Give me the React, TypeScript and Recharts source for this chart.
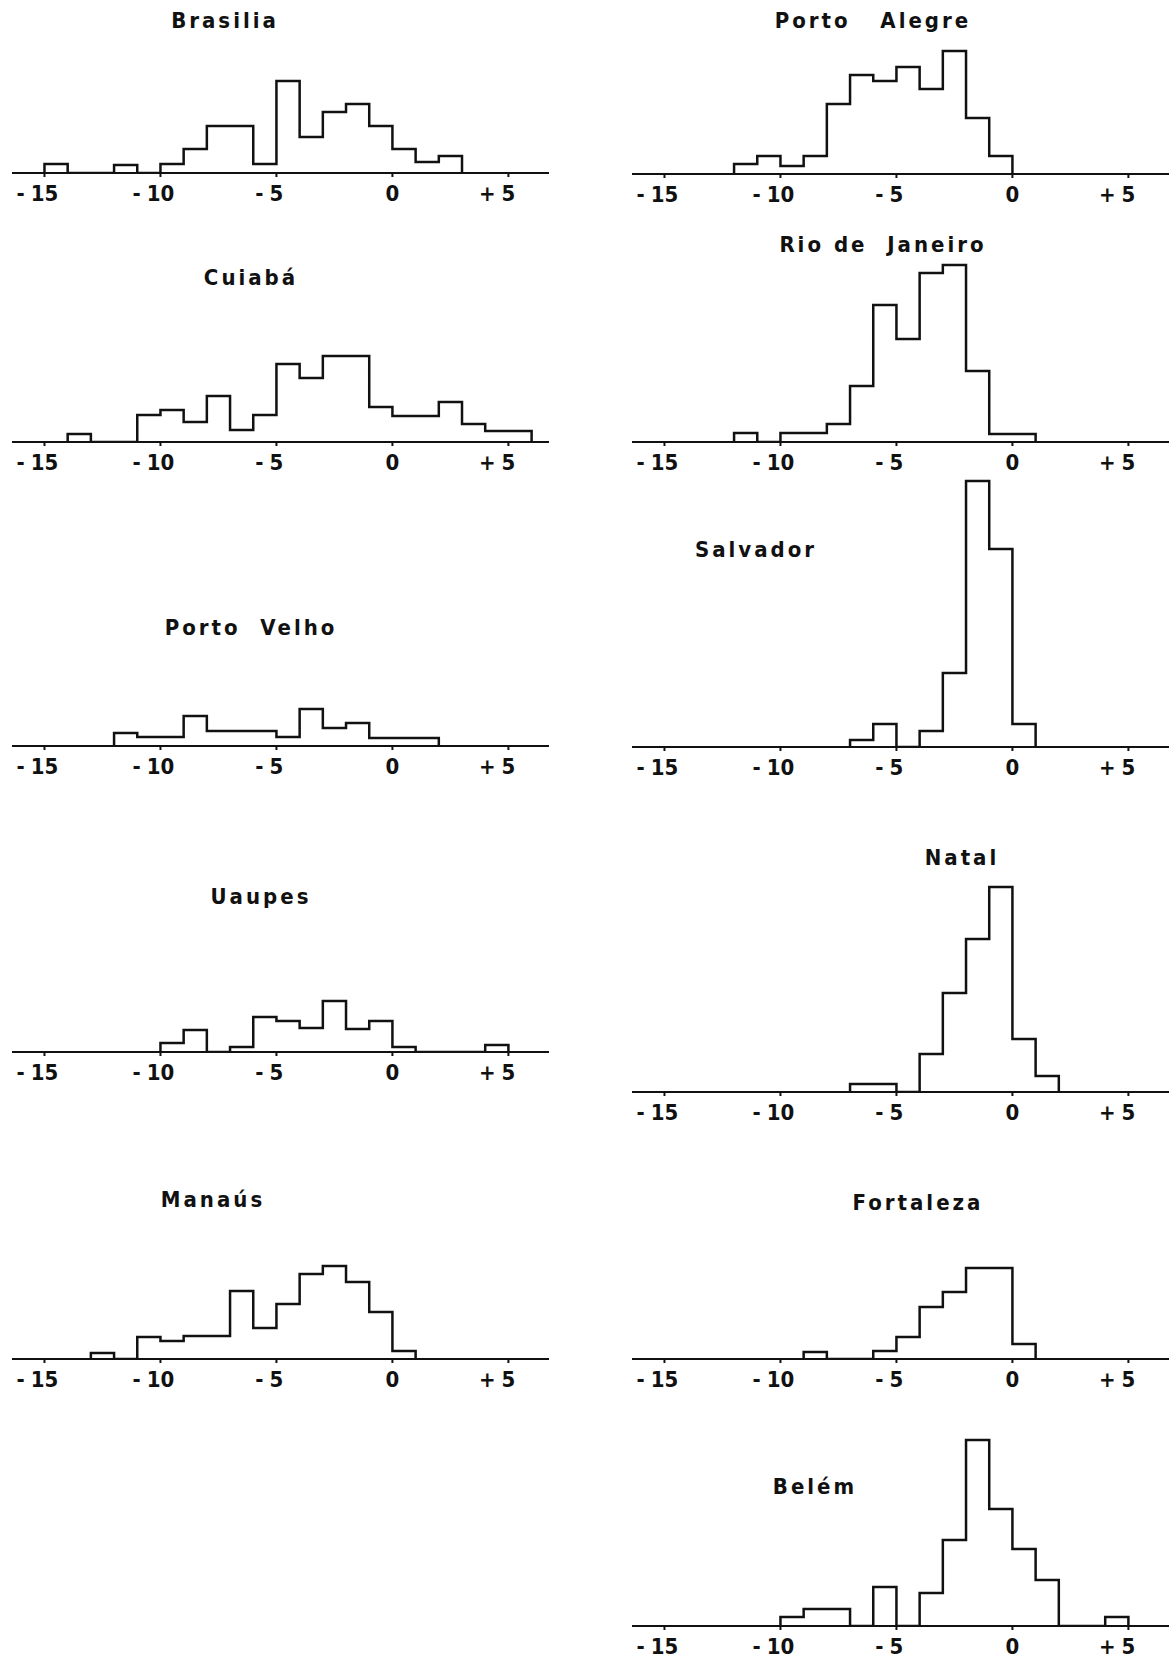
import React from "react";
import { LineChart, Line, XAxis, YAxis } from "recharts";

// ---- data (relative frequencies, one value per unit-wide bin, starting at the given edge) ----
const xTicks = [-15, -10, -5, 0, 5];
const xDomain: [number, number] = [-16.4, 6.75];

const brasiliaStart = -15;
const brasiliaCounts = [9, 0, 0, 8, 0, 9, 24, 47, 47, 9, 92, 36, 61, 69, 47, 24, 11, 17];

const cuiabaStart = -14;
const cuiabaCounts = [8, 0, 0, 27, 32, 20, 46, 12, 27, 78, 64, 86, 86, 35, 26, 26, 40, 18, 11, 11];

const portoVelhoStart = -12;
const portoVelhoCounts = [13, 9, 9, 30, 15, 15, 15, 9, 37, 18, 23, 8, 8, 8];

const uaupesStart = -10;
const uaupesCounts = [9, 22, 0, 5, 35, 31, 24, 51, 23, 31, 5, 0, 0, 0, 7];

const manausStart = -13;
const manausCounts = [6, 0, 22, 18, 23, 23, 68, 31, 55, 85, 93, 77, 47, 8];

const portoAlegreStart = -12;
const portoAlegreCounts = [10, 18, 8, 18, 70, 99, 93, 107, 85, 123, 56, 18];

const rioStart = -12;
const rioCounts = [9, 0, 9, 9, 18, 56, 137, 103, 169, 177, 71, 8, 8];

const salvadorStart = -7;
const salvadorCounts = [7, 23, 0, 16, 74, 266, 198, 23];

const natalStart = -7;
const natalCounts = [8, 8, 0, 38, 99, 153, 205, 53, 16];

const fortalezaStart = -9;
const fortalezaCounts = [7, 0, 0, 8, 22, 52, 67, 91, 91, 15];

const belemStart = -10;
const belemCounts = [9, 17, 17, 0, 39, 0, 33, 86, 186, 117, 77, 46, 0, 0, 9];

// ---- layout (positions only) ----
const LEFT_X = 12;
const RIGHT_X = 632;
const CHART_W = 537;
const AXIS_H = 34;

type PanelDef = {
  title: string;
  start: number;
  counts: number[];
  left: number;
  baseline: number;
  tx: number;
  ty: number;
};

const panels: PanelDef[] = [
  { title: "Brasilia", start: brasiliaStart, counts: brasiliaCounts, left: LEFT_X, baseline: 173, tx: 225, ty: 21 },
  { title: "Cuiabá", start: cuiabaStart, counts: cuiabaCounts, left: LEFT_X, baseline: 442, tx: 251, ty: 278 },
  { title: "Porto  Velho", start: portoVelhoStart, counts: portoVelhoCounts, left: LEFT_X, baseline: 746, tx: 251, ty: 628 },
  { title: "Uaupes", start: uaupesStart, counts: uaupesCounts, left: LEFT_X, baseline: 1052, tx: 261, ty: 897 },
  { title: "Manaús", start: manausStart, counts: manausCounts, left: LEFT_X, baseline: 1359, tx: 213, ty: 1200 },
  { title: "Porto   Alegre", start: portoAlegreStart, counts: portoAlegreCounts, left: RIGHT_X, baseline: 174, tx: 873, ty: 21 },
  { title: "Rio de  Janeiro", start: rioStart, counts: rioCounts, left: RIGHT_X, baseline: 442, tx: 883, ty: 245 },
  { title: "Salvador", start: salvadorStart, counts: salvadorCounts, left: RIGHT_X, baseline: 747, tx: 756, ty: 550 },
  { title: "Natal", start: natalStart, counts: natalCounts, left: RIGHT_X, baseline: 1092, tx: 962, ty: 858 },
  { title: "Fortaleza", start: fortalezaStart, counts: fortalezaCounts, left: RIGHT_X, baseline: 1359, tx: 918, ty: 1203 },
  { title: "Belém", start: belemStart, counts: belemCounts, left: RIGHT_X, baseline: 1626, tx: 815, ty: 1487 },
];

const FONT = "'DejaVu Sans Condensed', 'DejaVu Sans', sans-serif";

function buildSteps(start: number, counts: number[]) {
  const pts: { x: number; y: number }[] = [{ x: start, y: 0 }];
  counts.forEach((c, i) => pts.push({ x: start + i, y: c }));
  pts.push({ x: start + counts.length, y: 0 });
  return pts;
}

function Tick(props: any) {
  const { x, y, payload } = props;
  const v = payload.value as number;
  const sign = v < 0 ? "-" : v > 0 ? "+" : "";
  const digits = String(Math.abs(v));
  const halfW = digits.length * 6.9;
  const common = {
    fontFamily: FONT,
    fontWeight: 700,
    fontSize: 22,
    fill: "#111",
    fontStretch: "condensed" as any,
  };
  return (
    <g>
      <text x={x} y={y} dy={22} textAnchor="middle" {...common}>
        {digits}
      </text>
      {sign && (
        <text x={x - halfW - 6} y={y} dy={22} textAnchor="end" {...common}>
          {sign}
        </text>
      )}
    </g>
  );
}

function Panel({ p }: { p: PanelDef }) {
  const data = buildSteps(p.start, p.counts);
  const plotH = Math.max(...p.counts) + 12;
  const H = plotH + AXIS_H;
  return (
    <>
      <div
        style={{
          position: "absolute",
          left: p.tx,
          top: p.ty,
          transform: "translate(-50%, -50%)",
          fontFamily: FONT,
          fontStretch: "condensed",
          fontWeight: 700,
          fontSize: 22,
          letterSpacing: 3,
          whiteSpace: "pre",
          color: "#111",
          lineHeight: 1,
        }}
      >
        {p.title}
      </div>
      <div style={{ position: "absolute", left: p.left, top: p.baseline - plotH }}>
        <LineChart width={CHART_W} height={H} data={data} margin={{ top: 0, right: 0, bottom: 0, left: 0 }}>
          <XAxis
            type="number"
            dataKey="x"
            domain={xDomain}
            ticks={xTicks}
            interval={0}
            allowDataOverflow
            height={AXIS_H}
            tickSize={4}
            axisLine={{ stroke: "#111", strokeWidth: 2 }}
            tickLine={{ stroke: "#111", strokeWidth: 2 }}
            tick={(tp: any) => <Tick {...tp} />}
          />
          <YAxis hide type="number" domain={[0, plotH]} allowDataOverflow />
          <Line
            type="stepAfter"
            dataKey="y"
            stroke="#111"
            strokeWidth={2.5}
            dot={false}
            isAnimationActive={false}
          />
        </LineChart>
      </div>
    </>
  );
}

export default function App() {
  return (
    <div
      style={{
        position: "absolute",
        left: 0,
        top: 0,
        width: 1170,
        height: 1662,
        background: "#fff",
        overflow: "hidden",
      }}
    >
      {panels.map((p) => (
        <Panel key={p.title} p={p} />
      ))}
    </div>
  );
}
